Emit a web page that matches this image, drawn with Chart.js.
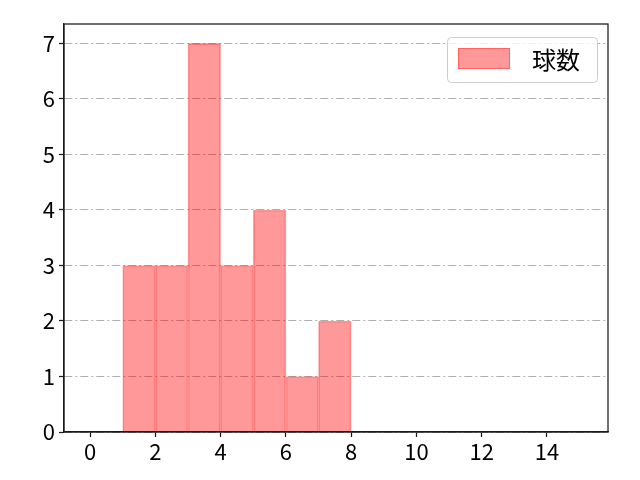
<!DOCTYPE html>
<html>
<head>
<meta charset="utf-8">
<script src="https://cdn.jsdelivr.net/npm/chart.js@4.4.1/dist/chart.umd.min.js"></script>
<style>
  html, body { margin: 0; padding: 0; background: #fff; }
  #wrap { width: 640px; height: 480px; }
</style>
</head>
<body>
<div id="wrap"><canvas id="chart" width="640" height="480"></canvas></div>
<script>
// histogram bins (left edges) and counts
const binStarts = [1, 2, 3, 4, 5, 6, 7];
const counts = [3, 3, 7, 3, 4, 1, 2];
const xTicks = [0, 2, 4, 6, 8, 10, 12, 14];
const yTicks = [0, 1, 2, 3, 4, 5, 6, 7];
const seriesLabel = '球数';

const FONT = '"Noto Sans CJK JP", "Noto Sans", sans-serif';
const fill = 'rgba(255, 0, 0, 0.4)';
const edge = 'rgba(255, 0, 0, 0.35)';

const points = binStarts.map((start, i) => ({ x: start + 0.5, y: counts[i] }));

// frame on top/right + legend box inside the axes
const framePlugin = {
  id: 'frame',
  afterDraw(chart) {
    const { ctx, chartArea: a } = chart;
    ctx.save();
    ctx.strokeStyle = '#1a1a1a';
    ctx.lineWidth = 1.25;
    ctx.strokeRect(a.left, a.top, a.right - a.left, a.bottom - a.top);

    // legend
    const bx = 447.5, by = 37.5, bw = 150, bh = 45, r = 4;
    ctx.fillStyle = 'rgba(255,255,255,0.8)';
    ctx.strokeStyle = '#cccccc';
    ctx.lineWidth = 1;
    ctx.beginPath();
    ctx.roundRect(bx, by, bw, bh, r);
    ctx.fill();
    ctx.stroke();
    ctx.fillStyle = fill;
    ctx.strokeStyle = edge;
    ctx.fillRect(458, 48, 52, 21);
    ctx.strokeRect(458.5, 48.5, 51, 20);
    ctx.fillStyle = '#000';
    ctx.font = '24px ' + FONT;
    ctx.textBaseline = 'middle';
    ctx.fillText(seriesLabel, 532, 60);
    ctx.restore();
  }
};

new Chart(document.getElementById('chart'), {
  type: 'bar',
  data: {
    datasets: [{
      label: seriesLabel,
      data: points,
      backgroundColor: fill,
      borderColor: edge,
      borderWidth: 1,
      barPercentage: 1,
      categoryPercentage: 1
    }]
  },
  options: {
    responsive: false,
    animation: false,
    layout: { padding: { top: 24, right: 32, left: 0, bottom: 0 } },
    plugins: {
      legend: { display: false },
      tooltip: { enabled: false }
    },
    scales: {
      x: {
        type: 'linear',
        offset: false,
        min: -0.8,
        max: 15.87,
        afterBuildTicks: (scale) => { scale.ticks = xTicks.map((v) => ({ value: v })); },
        afterFit: (scale) => { scale.height = 48; },
        grid: {
          offset: false,
          drawOnChartArea: false,
          drawTicks: true,
          tickLength: 5,
          tickColor: '#1a1a1a',
          tickWidth: 1.25
        },
        border: { color: '#1a1a1a', width: 1.25 },
        ticks: {
          color: '#000',
          font: { family: FONT, size: 22 },
          padding: 1,
          maxRotation: 0
        }
      },
      y: {
        min: 0,
        max: 7.35,
        afterBuildTicks: (scale) => { scale.ticks = yTicks.map((v) => ({ value: v })); },
        afterFit: (scale) => { scale.width = 64; },
        grid: {
          color: '#b0b0b0',
          lineWidth: 1,
          drawTicks: true,
          tickLength: 5,
          tickColor: '#1a1a1a',
          tickWidth: 1.25,
          tickBorderDash: []
        },
        border: { color: '#1a1a1a', width: 1.25, dash: [8, 3, 2, 3] },
        ticks: {
          color: '#000',
          font: { family: FONT, size: 22 },
          padding: 4
        }
      }
    }
  },
  plugins: [framePlugin]
});
</script>
</body>
</html>
